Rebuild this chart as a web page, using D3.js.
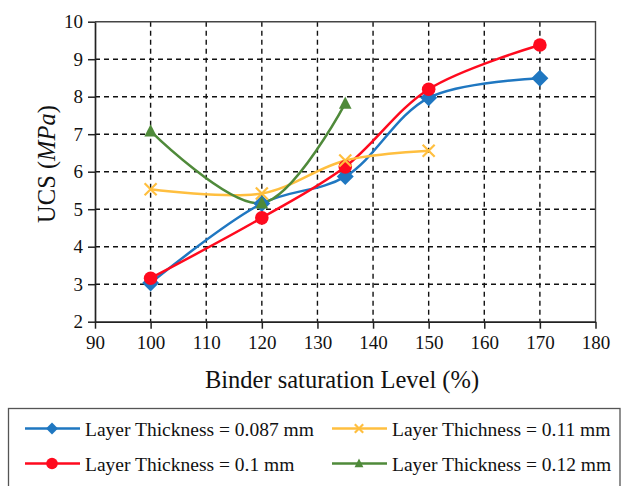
<!DOCTYPE html>
<html>
<head>
<meta charset="utf-8">
<script src="https://cdn.jsdelivr.net/npm/d3@7"></script>
<style>
  html, body { margin: 0; padding: 0; background: #fff; }
  svg { display: block; }
</style>
</head>
<body>
<div id="chart"></div>
<script>
// Binder saturation levels (%) and UCS (MPa) per layer thickness
const xTicks = [90, 100, 110, 120, 130, 140, 150, 160, 170, 180];
const yTicks = [2, 3, 4, 5, 6, 7, 8, 9, 10];

const sat087 = [100, 120, 135, 150, 170];
const ucs087 = [3.03, 5.15, 5.87, 7.97, 8.49];

const sat010 = [100, 120, 135, 150, 170];
const ucs010 = [3.16, 4.77, 6.13, 8.2, 9.38];

const sat011 = [100, 120, 135, 150];
const ucs011 = [5.53, 5.42, 6.3, 6.56];

const sat012 = [100, 120, 135];
const ucs012 = [7.08, 5.16, 7.82];

const seriesNames = [
  "Layer Thickness = 0.087 mm",
  "Layer Thickness = 0.1 mm",
  "Layer Thichness = 0.11 mm",
  "Layer Thickness = 0.12 mm"
];
const seriesColors = ["#1f77c1", "#ff0a1e", "#ffbf3f", "#4f8a3a"];
const seriesMarkers = ["diamond", "circle", "cross", "triangle"];

const series = [
  { x: sat087, y: ucs087 },
  { x: sat010, y: ucs010 },
  { x: sat011, y: ucs011 },
  { x: sat012, y: ucs012 }
].map((s, i) => ({
  name: seriesNames[i],
  color: seriesColors[i],
  marker: seriesMarkers[i],
  points: s.x.map((v, j) => [v, s.y[j]])
}));

const W = 625, H = 486;
const margin = { left: 95, right: 29.5, top: 21.7, bottom: 164.3 };
const svg = d3.select("#chart").append("svg").attr("width", W).attr("height", H);

const x = d3.scaleLinear().domain([90, 180]).range([margin.left, W - margin.right]);
const y = d3.scaleLinear().domain([2, 10]).range([H - margin.bottom, margin.top]);

const font = "'Liberation Serif', 'Times New Roman', serif";

// dashed grid
const grid = svg.append("g").attr("stroke", "#111").attr("stroke-width", 1.4)
  .attr("stroke-dasharray", "5,4");
grid.selectAll("line.v").data(xTicks.slice(1, -1)).join("line")
  .attr("x1", d => x(d)).attr("x2", d => x(d))
  .attr("y1", y(10)).attr("y2", y(2));
grid.selectAll("line.h").data(yTicks.slice(1, -1)).join("line")
  .attr("x1", x(90)).attr("x2", x(180))
  .attr("y1", d => y(d)).attr("y2", d => y(d));

// plot frame (top and right)
svg.append("path")
  .attr("d", `M${x(90)},${y(10)}H${x(180)}V${y(2)}`)
  .attr("fill", "none").attr("stroke", "#444").attr("stroke-width", 1.4);

// axes
const xAxis = svg.append("g").attr("transform", `translate(0,${y(2)})`)
  .call(d3.axisBottom(x).tickValues(xTicks).tickSize(7).tickPadding(7).tickSizeOuter(0));
const yAxis = svg.append("g").attr("transform", `translate(${x(90)},0)`)
  .call(d3.axisLeft(y).tickValues(yTicks).tickSize(7).tickPadding(5).tickSizeOuter(0));
[xAxis, yAxis].forEach(a => {
  a.attr("font-family", font).attr("font-size", 19);
  a.select(".domain").attr("stroke", "#222").attr("stroke-width", 1.7);
  a.selectAll(".tick line").attr("stroke", "#222").attr("stroke-width", 1.5);
  a.selectAll(".tick text").attr("fill", "#111");
});

// axis titles
svg.append("text")
  .attr("x", 342).attr("y", 388)
  .attr("text-anchor", "middle")
  .attr("font-family", font).attr("font-size", 24.5).attr("fill", "#111")
  .text("Binder saturation Level (%)");

const yt = svg.append("text")
  .attr("transform", `translate(55,164) rotate(-90)`)
  .attr("text-anchor", "middle")
  .attr("font-family", font).attr("font-size", 24.5).attr("fill", "#111");
yt.append("tspan").text("UCS (");
yt.append("tspan").attr("font-style", "italic").text("MPa");
yt.append("tspan").text(")");

// smoothed lines
const line = d3.line()
  .x(d => x(d[0])).y(d => y(d[1]))
  .curve(d3.curveCatmullRom.alpha(0.5));

function drawMarker(g, type, color, cx, cy, scale = 1) {
  if (type === "diamond") {
    const s = 8.5 * scale;
    g.append("path").attr("d", `M${cx},${cy - s}L${cx + s},${cy}L${cx},${cy + s}L${cx - s},${cy}Z`)
      .attr("fill", color);
  } else if (type === "circle") {
    g.append("circle").attr("cx", cx).attr("cy", cy).attr("r", 6.8 * scale).attr("fill", color);
  } else if (type === "cross") {
    const s = 6 * scale;
    g.append("path").attr("d", `M${cx - s},${cy - s}L${cx + s},${cy + s}M${cx - s},${cy + s}L${cx + s},${cy - s}`)
      .attr("stroke", color).attr("stroke-width", 2.2).attr("fill", "none");
  } else if (type === "triangle") {
    const s = 7 * scale;
    g.append("path").attr("d", `M${cx},${cy - s}L${cx + s * 0.9},${cy + s * 0.75}L${cx - s * 0.9},${cy + s * 0.75}Z`)
      .attr("fill", color);
  }
}

const plot = svg.append("g");
series.forEach(s => {
  plot.append("path").datum(s.points)
    .attr("d", line).attr("fill", "none")
    .attr("stroke", s.color).attr("stroke-width", 2.5);
});
series.forEach(s => {
  const g = plot.append("g");
  s.points.forEach(p => drawMarker(g, s.marker, s.color, x(p[0]), y(p[1])));
});

// legend
svg.append("rect")
  .attr("x", 8.5).attr("y", 408.5).attr("width", 611.5).attr("height", 90)
  .attr("fill", "none").attr("stroke", "#555").attr("stroke-width", 1.3);

const legendPos = [[25, 428.5], [25, 463.5], [332, 428.5], [332, 463.5]];
series.forEach((s, i) => {
  const [lx, ly] = legendPos[i];
  const g = svg.append("g");
  g.append("line").attr("x1", lx).attr("x2", lx + 55).attr("y1", ly).attr("y2", ly)
    .attr("stroke", s.color).attr("stroke-width", 2.3);
  drawMarker(g, s.marker, s.color, lx + 27, ly, s.marker === "circle" ? 0.85 : 0.7);
  g.append("text").attr("x", lx + 60).attr("y", ly + 7.5)
    .attr("font-family", font).attr("font-size", 19.5).attr("fill", "#111")
    .text(s.name);
});
</script>
</body>
</html>
